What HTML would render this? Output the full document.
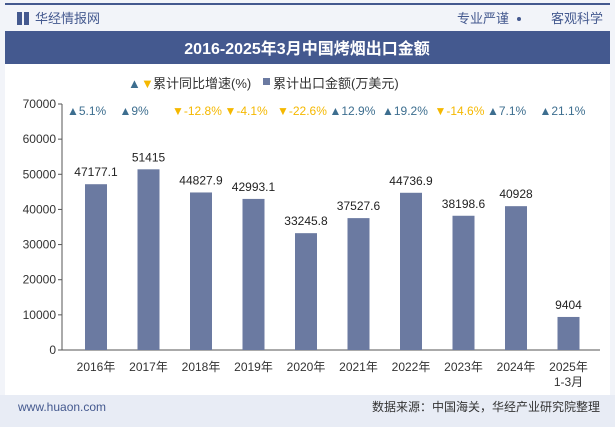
<!DOCTYPE html>
<html><head><meta charset="utf-8"><style>
body{margin:0;width:615px;height:427px;overflow:hidden;background:#fff;font-family:"Liberation Sans","Noto Sans CJK SC",sans-serif;}
</style></head><body>
<svg width="615" height="427" xmlns="http://www.w3.org/2000/svg" style="position:absolute;left:0;top:0" font-family="Liberation Sans, Noto Sans CJK SC, sans-serif">
<rect x="0" y="0" width="615" height="427" fill="#f2f4f9"/>
<rect x="5" y="3" width="605" height="2" fill="#44598f"/>
<rect x="17" y="12" width="5" height="13" fill="#44598f"/>
<rect x="24" y="12" width="5" height="13" fill="#44598f"/>
<text x="35" y="23" font-size="13" fill="#44598f">华经情报网</text>
<text x="509" y="23" font-size="13" fill="#44598f" text-anchor="end">专业严谨</text>
<circle cx="519" cy="19" r="2" fill="#44598f"/>
<text x="603" y="23" font-size="13" fill="#44598f" text-anchor="end">客观科学</text>
<rect x="5" y="31" width="605" height="33" fill="#44598f"/>
<text x="307" y="54" font-size="16" font-weight="bold" fill="#fff" text-anchor="middle">2016-2025年3月中国烤烟出口金额</text>
<rect x="5" y="64" width="605" height="331" fill="#fff"/>
<g font-size="13" fill="#333">
<text x="128" y="88" fill="#3d6e8f" font-size="13">▲</text>
<text x="141" y="88" fill="#f5b800" font-size="13">▼</text>
<text x="153" y="88">累计同比增速(%)</text>
<rect x="263" y="78" width="7" height="7" fill="#6b7aa1"/>
<text x="273" y="88">累计出口金额(万美元)</text>
</g>
<g id="chart"></g>
<rect x="0" y="395" width="615" height="32" fill="#e8ecf5"/>
<text x="18" y="411" font-size="12" fill="#44598f">www.huaon.com</text>
<text x="600" y="411" font-size="12" fill="#333" text-anchor="end">数据来源：中国海关，华经产业研究院整理</text>
</svg>
<script>
const categories=["2016年","2017年","2018年","2019年","2020年","2021年","2022年","2023年","2024年","2025年\n1-3月"];
const values=[47177.1,51415,44827.9,42993.1,33245.8,37527.6,44736.9,38198.6,40928,9404];
const growth=[5.1,9,-12.8,-4.1,-22.6,12.9,19.2,-14.6,7.1,21.1];
const yTicks=[0,10000,20000,30000,40000,50000,60000,70000];
const NS="http://www.w3.org/2000/svg";
const g=document.getElementById('chart');
const y0=350,y1=104,yMax=70000,x0=62,step=52.5,first=96,bw=22;
const ys=v=>y0-(v/yMax)*(y0-y1);
const xs=i=>first+i*step;
function mk(t,a,txt){const e=document.createElementNS(NS,t);for(const k in a)e.setAttribute(k,a[k]);if(txt!==undefined)e.textContent=txt;g.appendChild(e);return e;}
let e=mk('line',{x1:x0,y1:y1,x2:x0,y2:y0,stroke:'#555'});


e=mk('line',{x1:x0,y1:y0,x2:600,y2:y0,stroke:'#555'});


yTicks.forEach(v=>{
 let t=mk('line',{x1:x0-4,y1:ys(v),x2:x0,y2:ys(v),stroke:'#555'});
 
 
 let l=mk('text',{x:x0-6,y:ys(v)+4,'font-size':12,fill:'#333','text-anchor':'end'},String(v));
 
 
});
categories.forEach((c,i)=>{
 const x=xs(i),v=values[i];
 let b=mk('rect',{x:x-bw/2,y:ys(v),width:bw,height:y0-ys(v),fill:'#6b7aa1'});
 
 
 let vl=mk('text',{x:x,y:ys(v)-8,'font-size':12,fill:'#222','text-anchor':'middle'},String(v));
 
 
 const parts=c.split('\n');
 parts.forEach((p,j)=>{
  let xl=mk('text',{x:x,y:371+j*15,'font-size':12,fill:'#333','text-anchor':'middle'},p);
  
  
 });
 const gv=growth[i],up=gv>=0;
 let gl=mk('text',{x:x-29,y:115,'font-size':12,fill:up?'#3d6e8f':'#f5b800'},(up?'▲':'▼')+gv+'%');
 
 
});
</script>
</body></html>
